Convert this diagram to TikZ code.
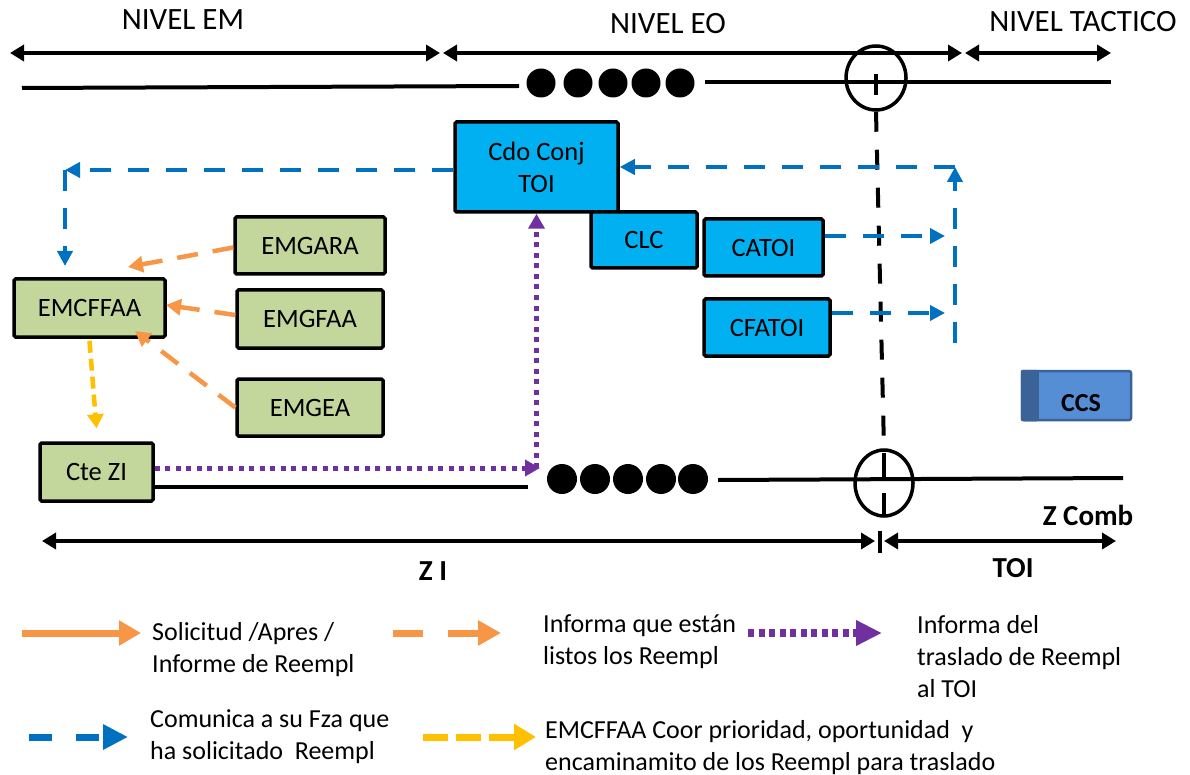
\documentclass[tikz,border=0pt]{standalone}
\usepackage{fontspec}
\setmainfont{Carlito}
\usetikzlibrary{arrows.meta,shapes.geometric,backgrounds}
\definecolor{boxblue}{HTML}{00B0F0}
\definecolor{boxgreen}{HTML}{C3D69B}
\definecolor{orng}{HTML}{F79646}
\definecolor{dblue}{HTML}{0070C0}
\definecolor{purp}{HTML}{7030A0}
\definecolor{yell}{HTML}{FFC000}
\definecolor{ccsfill}{HTML}{558ED5}
\definecolor{ccsdark}{HTML}{3B6398}
\begin{document}
\begin{tikzpicture}[x=1pt,y=-1pt,
  txt/.style={font=\fontsize{26}{32}\selectfont, inner sep=0pt, align=left, anchor=north west},
  lvl/.style={font=\fontsize{31}{37}\selectfont, inner sep=0pt},
  bld/.style={font=\fontsize{26}{32}\selectfont\bfseries, inner sep=0pt},
  bigbld/.style={font=\fontsize{29}{34}\selectfont\bfseries, inner sep=0pt},
  gbox/.style={draw=black, line width=3.5pt, fill=boxgreen, rounded corners=1.5pt, inner sep=0pt, align=center, font=\fontsize{26.5}{32}\selectfont},
  bbox/.style={gbox, fill=boxblue},
  ring/.style={draw=black, ellipse, line width=3.5pt, inner sep=0pt},
  dimarr/.style={line width=4pt, {Triangle[length=14pt,width=16pt]}-{Triangle[length=14pt,width=16pt]}},
  hline/.style={line width=4pt},
  sol/.style={draw=orng, line width=4.5pt, -{Triangle[length=15pt,width=16pt]}},
  odash/.style={sol, dash pattern=on 21pt off 15pt},
  bdash/.style={draw=dblue, line width=4.5pt, dash pattern=on 21pt off 17pt, -{Triangle[length=15pt,width=15pt]}},
  pdot/.style={draw=purp, line width=5pt, dash pattern=on 5pt off 5.5pt, -{Triangle[length=15pt,width=16pt]}},
  ydash/.style={draw=yell, line width=4.5pt, dash pattern=on 12pt off 6pt, -{Triangle[length=14pt,width=16pt]}},
  kdash/.style={line width=4pt, dash pattern=on 20pt off 18pt},
]
\path[fill=white, use as bounding box] (0,0) rectangle (1190,775);

% level labels
\node[lvl] (nem) at (183,20) {NIVEL EM};
\node[lvl] (neo) at (668,24) {NIVEL EO};
\node[lvl] (nta) at (1083,22) {NIVEL TACTICO};

% level arrows
\coordinate (a1) at (10,53);  \coordinate (a2) at (440,53);
\coordinate (a3) at (443,53); \coordinate (a4) at (962,53);
\coordinate (a5) at (965,53); \coordinate (a6) at (1111,53);
\draw[dimarr] (a1) -- (a2);
\draw[dimarr] (a3) -- (a4);
\draw[dimarr] (a5) -- (a6);

% top line
\coordinate (t1) at (22,88);  \coordinate (t2) at (519,86);
\coordinate (t3) at (705,82); \coordinate (t4) at (1111,82);
\draw[hline] (t1) -- (t2);
\foreach \x in {541,578,613,646,680} \fill (\x,83) circle[radius=14.5pt];
\draw[hline] (t3) -- (t4);
\node[ring, minimum width=60pt, minimum height=64pt] (ct) at (876,78) {};
\draw[line width=4pt] (876,74) -- (876,95);

% boxes
\node[bbox, minimum width=163pt, minimum height=90pt] (cdo) at (536.5,167) {Cdo Conj\\TOI};
\node[bbox, minimum width=106pt, minimum height=56pt] (clc) at (644,240) {CLC};
\node[bbox, minimum width=119pt, minimum height=57pt] (catoi) at (763.5,247.5) {CATOI};
\node[bbox, minimum width=126pt, minimum height=57pt] (cfatoi) at (767,327.5) {CFATOI};
\node[gbox, minimum width=150pt, minimum height=57pt] (emgara) at (310,245.5) {EMGARA};
\node[gbox, minimum width=146pt, minimum height=58pt] (emgfaa) at (310,319) {EMGFAA};
\node[gbox, minimum width=146pt, minimum height=57pt] (emgea) at (310,407.5) {EMGEA};
\node[gbox, minimum width=151pt, minimum height=58pt] (emcffaa) at (89.5,308) {EMCFFAA};
\node[gbox, minimum width=113pt, minimum height=58pt] (cte) at (96.5,472) {Cte ZI};

% CCS
\node[draw=ccsdark, line width=2.5pt, fill=ccsfill, rounded corners=2pt, minimum width=109pt, minimum height=49pt, inner sep=0pt] (ccs) at (1076.5,395.5) {};
\fill[ccsdark, rounded corners=2pt] (ccs.north west) rectangle ([xshift=18pt]ccs.south west);
\node[bld] (ccst) at (1081,403) {CCS};

% bottom line
\coordinate (b1) at (153,487); \coordinate (b2) at (528,487);
\coordinate (b3) at (718,480); \coordinate (b4) at (1123,478);
\draw[hline] (b1 -| cte.east) -- (b2);
\foreach \x in {562,595,628,661,693} \fill (\x,479) circle[radius=15pt];
\draw[hline] (b3) -- (b4);
\node[ring, minimum width=58pt, minimum height=66pt] (cb) at (884,483) {};
\draw[line width=4pt] (884,453) -- (884,477);
\draw[line width=4pt] (884,493) -- (884,514);

% vertical dashed
\draw[kdash] (ct.south) -- (cb.north);

% zone arrows
\coordinate (z1) at (42,541);  \coordinate (z2) at (875,541);
\coordinate (z3) at (884,541); \coordinate (z4) at (1116,541);
\draw[dimarr] (z1) -- (z2);
\draw[dimarr] (z3) -- (z4);
\draw[line width=4pt] (880,531) -- (880,553);
\node[bigbld] (zi) at (433,571) {Z I};
\node[bigbld] (toi) at (1013,568) {TOI};
\node[bigbld] (zcomb) at (1088,515) {Z Comb};

% connectors
\begin{pgfonlayer}{background}
\coordinate (oa) at (704,238);
\coordinate (ob) at (704,318);
\coordinate (oc) at (910,390);
\draw[sol] (oa) -- (oa -| emgara.east);
\draw[sol] (ob) -- (ob -| emgfaa.east);
\draw[sol] (oc) -- (oc -| emgea.east);
\end{pgfonlayer}

\coordinate (da) at (128,267);
\coordinate (db) at (166,305);
\coordinate (dc) at (135,331);
\draw[odash] ([yshift=-2pt]emgara.west) -- (da);
\draw[odash] ([yshift=4pt]emgfaa.west) -- (db);
\draw[odash] (emgea.west) -- (dc);

\draw[ydash] ([yshift=-2pt]emcffaa.south) -- ([yshift=13pt]cte.north);

\coordinate (pa) at (540,468);
\draw[pdot] (pa -| cte.east) -- (pa);
\draw[pdot] (cdo.south |- pa) -- (cdo.south);

\coordinate (bc1) at (65,170);
\coordinate (bc2) at (65,266);
\draw[bdash] (cdo.west |- bc1) -- (bc1);
\draw[bdash] (bc1) -- (bc2);

\coordinate (br1) at (955,343);
\coordinate (br2) at (955,167);
\draw[bdash] (br1) -- (br2);
\draw[bdash] (br2) -- (br2 -| cdo.east);

\coordinate (bt1) at (945,236);
\coordinate (bt2) at (945,313);
\draw[bdash] (bt1 -| catoi.east) -- (bt1);
\draw[bdash] (bt2 -| cfatoi.east) -- (bt2);

% legend
\coordinate (l1a) at (22,633);  \coordinate (l1b) at (141,633);
\coordinate (l2a) at (393,633); \coordinate (l2b) at (501,633);
\coordinate (l3a) at (748,633); \coordinate (l3b) at (882,633);
\coordinate (l4a) at (29,737);  \coordinate (l4b) at (128,737);
\coordinate (l5a) at (423,737); \coordinate (l5b) at (536,737);
\draw[draw=orng, line width=7pt, -{Triangle[length=22pt,width=24pt]}] (l1a) -- (l1b);
\draw[draw=orng, line width=7pt, dash pattern=on 30pt off 25pt, -{Triangle[length=23pt,width=24pt]}] (l2a) -- (l2b);
\draw[draw=purp, line width=8pt, dash pattern=on 6pt off 4.5pt, -{Triangle[length=26pt,width=24pt]}] (l3a) -- (l3b);
\draw[draw=dblue, line width=7pt, dash pattern=on 23pt off 24pt, -{Triangle[length=25pt,width=24pt]}] (l4a) -- (l4b);
\draw[draw=yell, line width=7pt, dash pattern=on 25pt off 8pt, -{Triangle[length=22pt,width=25pt]}] (l5a) -- (l5b);

\node[txt] (lt1) at (152,622) {Solicitud /Apres /\\Informe de Reempl};
\node[txt] (lt2) at (543,614) {Informa que están\\listos los Reempl};
\node[txt] (lt3) at (917,615) {Informa del\\traslado de Reempl\\al TOI};
\node[txt] (lt4) at (150,709) {Comunica a su Fza que\\ha solicitado~ Reempl};
\node[txt] (lt5) at (545,720) {EMCFFAA Coor prioridad, oportunidad~ y\\encaminamito de los Reempl para traslado};
\end{tikzpicture}
\end{document}
